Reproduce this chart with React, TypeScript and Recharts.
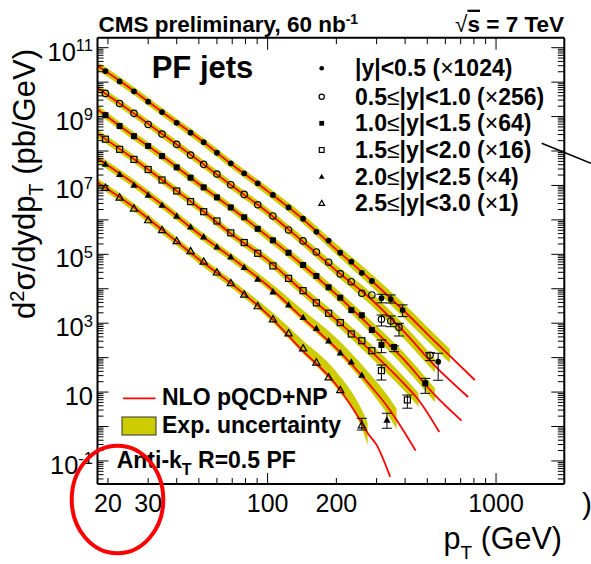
import React from 'react';
import { ComposedChart, XAxis, YAxis, Line, Area, Scatter, ErrorBar } from 'recharts';

const FONT = '"Liberation Sans", Arial, Helvetica, sans-serif';
const RED = '#ff0000';
const YELLOW = '#cccc00';

const W = 591;
const H = 564;
// axes are 1px thick, so the plot area spans x 97.5..564.3, y 37.7..484
const MARGIN = { top: 36.7, right: 25.7, bottom: 79, left: 96.5 };
const X_DOMAIN = [18, 1990];
const Y_DOMAIN = [0.0214, 1.95e11];

// ---- tick labels ----
const X_TICKS = [20, 30, 40, 50, 60, 70, 80, 90, 100, 200, 300, 400, 500, 600, 700, 800, 900, 1000];
const X_MAJOR = [100, 1000];
const X_LABELS = [20, 30, 100, 200, 1000];
const Y_EXPS = [-2, -1, 0, 1, 2, 3, 4, 5, 6, 7, 8, 9, 10, 11];
const Y_LABEL_EXPS = [11, 9, 7, 5, 3, 1, -1];

// ---- legend text ----
const RAP_LOW = ['', '0.5', '1.0', '1.5', '2.0', '2.5'];
const RAP_HIGH = ['0.5', '1.0', '1.5', '2.0', '2.5', '3.0'];
const FACTORS = ['1024', '256', '64', '16', '4', '1'];

// ---- measured points (pb/GeV, scaled) ----
const PT = [19.5, 22.5, 26, 30, 34.5, 40, 46, 52.5, 60, 69, 79, 90.5, 105.5, 123.5, 143, 163.5, 185, 208, 232.5, 258.5, 286, 315, 346];

const s1Pt = [...PT, 390, 558];
const s1Val = [2.1e10, 1.05e10, 5.4e9, 2.7e9, 1.35e9, 6.6e8, 3.4e8, 1.8e8, 8.9e7, 4.4e7, 2.25e7, 1.15e7, 5.3e6, 2.3e6, 1.08e6, 4.5e5, 2.5e5, 1.11e5, 6.1e4, 2.9e4, 1.68e4, 5.3e3, 5.0e3, 2.4e3, 76];
const s1ErrPt = [315, 346, 390, 558];
const s1ErrLo = [3.9e3, 3.85e3, 1.55e3, 22];
const s1ErrHi = [6.9e3, 6.6e3, 3.4e3, 134];

const s2Pt = [...PT, 376, 514];
const s2Val = [4.7e9, 2.4e9, 1.24e9, 5.9e8, 3.1e8, 1.56e8, 7.6e7, 4.1e7, 2.15e7, 1.05e7, 5.5e6, 2.75e6, 1.3e6, 5.1e5, 2.45e5, 1.17e5, 5.9e4, 2.7e4, 1.6e4, 7.4e3, 6.6e3, 1.3e3, 1.16e3, 760, 117];
const s2ErrPt = [315, 346, 376, 514];
const s2ErrLo = [830, 790, 425, 82];
const s2ErrHi = [1.73e3, 1.62e3, 990, 139];

const s3Pt = [...PT.slice(0, 22), 358, 490];
const s3Val = [1.1e9, 5.3e8, 2.7e8, 1.4e8, 7.1e7, 3.35e7, 1.68e7, 8.8e6, 4.5e6, 2.3e6, 1.19e6, 5.5e5, 2.55e5, 1.11e5, 4.9e4, 2.35e4, 1.1e4, 5.5e3, 2.4e3, 1.7e3, 635, 233, 204, 18];
const s3ErrPt = [315, 358, 490];
const s3ErrLo = [139, 149, 9.2];
const s3ErrHi = [325, 218, 25];

const s4Pt = [...PT.slice(0, 22), 409];
const s4Val = [2.2e8, 1.12e8, 5.7e7, 2.9e7, 1.44e7, 6.9e6, 3.4e6, 1.73e6, 9.3e5, 4.2e5, 2.2e5, 1.07e5, 4.6e4, 2.0e4, 8.8e3, 3.9e3, 1.94e3, 1.04e3, 485, 310, 159, 42, 5.9];
const s4ErrPt = [315, 409];
const s4ErrLo = [22.4, 3.4];
const s4ErrHi = [61, 8.2];

const s5Pt = [...PT.slice(0, 20), 333];
const s5Val = [4.2e7, 2.1e7, 1.03e7, 5.3e6, 2.7e6, 1.3e6, 6.3e5, 3.25e5, 1.66e5, 8.5e4, 4.2e4, 1.92e4, 8.2e3, 3.4e3, 1.48e3, 710, 310, 139, 76, 31, 1.55];
const s5ErrPt = [333];
const s5ErrLo = [0.89];
const s5ErrHi = [2.43];

const s6Pt = [...PT.slice(0, 18), 258.5];
const s6Val = [8.6e6, 4.5e6, 2.16e6, 9.9e5, 5.1e5, 2.45e5, 1.25e5, 6.2e4, 3.0e4, 1.47e4, 6.8e3, 3.15e3, 1.3e3, 510, 187, 73, 27, 11.5, 1.1];
const s6ErrPt = [258.5];
const s6ErrLo = [0.79];
const s6ErrHi = [1.73];

// ---- NLO pQCD+NP curves and experimental uncertainty band (relative up / down) ----
const s1ThPt = [18, 25, 35, 50, 70, 100, 140, 200, 280, 400, 560, 628, 807];
const s1ThVal = [2.97e10, 6.67e9, 1.27e9, 2.3e8, 3.99e7, 6.84e6, 1.17e6, 1.37e5, 1.92e4, 2.11e3, 233, 112, 22.4];
const s1BandUp = [0.31, 0.31, 0.31, 0.31, 0.31, 0.33, 0.38, 0.45, 0.55, 0.6, 0.6, 0.6];
const s1BandDn = [0.24, 0.24, 0.24, 0.24, 0.24, 0.25, 0.26, 0.28, 0.33, 0.37, 0.37, 0.37];

const s2ThPt = [18, 25, 35, 50, 70, 100, 140, 200, 280, 400, 540, 755];
const s2ThVal = [6.67e9, 1.48e9, 2.94e8, 5.18e7, 9.61e6, 1.67e6, 2.6e5, 3.34e4, 5.39e3, 520, 57.4, 7.2];
const s2BandUp = [0.31, 0.31, 0.31, 0.31, 0.31, 0.33, 0.38, 0.45, 0.55, 0.6, 0.6];
const s2BandDn = [0.24, 0.24, 0.24, 0.24, 0.24, 0.25, 0.26, 0.28, 0.33, 0.37, 0.37];

const s3ThPt = [18, 25, 35, 50, 70, 100, 140, 200, 280, 400, 540, 706];
const s3ThVal = [1.61e9, 3.25e8, 6.67e7, 1.1e7, 2.11e6, 3.31e5, 5.34e4, 6.81e3, 830, 80, 8.1, 1.48];
const s3BandUp = [0.31, 0.31, 0.31, 0.31, 0.31, 0.33, 0.38, 0.45, 0.55, 0.6, 0.6];
const s3BandDn = [0.24, 0.24, 0.24, 0.24, 0.24, 0.25, 0.26, 0.28, 0.33, 0.37, 0.37];

const s4ThPt = [18, 25, 35, 50, 70, 100, 140, 200, 280, 400, 458, 564];
const s4ThVal = [3.21e8, 7.05e7, 1.35e7, 2.25e6, 3.71e5, 6.79e4, 9.44e3, 1.24e3, 167, 16.1, 5.9, 0.695];
const s4BandUp = [0.31, 0.31, 0.31, 0.31, 0.31, 0.33, 0.4, 0.5, 0.6, 0.6, 0.6];
const s4BandDn = [0.24, 0.24, 0.24, 0.24, 0.24, 0.25, 0.27, 0.3, 0.35, 0.37, 0.37];

const s5ThPt = [18, 25, 35, 50, 70, 100, 140, 200, 280, 333, 367, 445];
const s5ThVal = [6.04e7, 1.36e7, 2.56e6, 3.94e5, 7.76e4, 1.24e4, 1.57e3, 185, 16.1, 3.96, 1.55, 0.199];
const s5BandUp = [0.31, 0.31, 0.31, 0.31, 0.31, 0.4, 0.7, 1.0, 1.1, 1.1, 1.1];
const s5BandDn = [0.24, 0.24, 0.24, 0.24, 0.24, 0.22, 0.2, 0.2, 0.3, 0.4, 0.45];

const s6ThPt = [18, 25, 35, 50, 70, 100, 140, 200, 258.5, 274, 300, 344];
const s6ThVal = [1.22e7, 2.79e6, 4.78e5, 7.16e4, 1.34e4, 1.8e3, 178, 16.1, 1.27, 0.65, 0.292, 0.0344];
const s6BandUp = [0.31, 0.31, 0.31, 0.31, 0.31, 0.5, 1.0, 1.4, 1.4, 1.0];
const s6BandDn = [0.24, 0.24, 0.24, 0.24, 0.24, 0.2, 0.15, 0.2, 0.3, 0.55];

// ---- build tables ----
function makePoints(pt: number[], val: number[], ePt: number[], eLo: number[], eHi: number[]) {
  return pt.map((p, i) => {
    const k = ePt.indexOf(p);
    const v = val[i];
    return k >= 0 ? { pt: p, v, err: [v - eLo[k], eHi[k] - v] } : { pt: p, v };
  });
}
function makeTheory(pt: number[], val: number[]) {
  return pt.map((p, i) => ({ pt: p, v: val[i] }));
}
function makeBand(pt: number[], val: number[], up: number[], dn: number[]) {
  return up.map((u, i) => ({ pt: pt[i], band: [val[i] * (1 - dn[i]), val[i] * (1 + u)] }));
}

const POINTS = [
  makePoints(s1Pt, s1Val, s1ErrPt, s1ErrLo, s1ErrHi),
  makePoints(s2Pt, s2Val, s2ErrPt, s2ErrLo, s2ErrHi),
  makePoints(s3Pt, s3Val, s3ErrPt, s3ErrLo, s3ErrHi),
  makePoints(s4Pt, s4Val, s4ErrPt, s4ErrLo, s4ErrHi),
  makePoints(s5Pt, s5Val, s5ErrPt, s5ErrLo, s5ErrHi),
  makePoints(s6Pt, s6Val, s6ErrPt, s6ErrLo, s6ErrHi),
];
const THEORY = [
  makeTheory(s1ThPt, s1ThVal),
  makeTheory(s2ThPt, s2ThVal),
  makeTheory(s3ThPt, s3ThVal),
  makeTheory(s4ThPt, s4ThVal),
  makeTheory(s5ThPt, s5ThVal),
  makeTheory(s6ThPt, s6ThVal),
];
const BANDS = [
  makeBand(s1ThPt, s1ThVal, s1BandUp, s1BandDn),
  makeBand(s2ThPt, s2ThVal, s2BandUp, s2BandDn),
  makeBand(s3ThPt, s3ThVal, s3BandUp, s3BandDn),
  makeBand(s4ThPt, s4ThVal, s4BandUp, s4BandDn),
  makeBand(s5ThPt, s5ThVal, s5BandUp, s5BandDn),
  makeBand(s6ThPt, s6ThVal, s6BandUp, s6BandDn),
];

const Y_TICKS: number[] = [];
Y_EXPS.forEach((e) => {
  for (let m = 1; m <= 9; m++) {
    const v = m * Math.pow(10, e);
    if (v >= Y_DOMAIN[0] && v <= Y_DOMAIN[1]) Y_TICKS.push(v);
  }
});

// ---- markers ----
function Marker({ kind, cx, cy, s = 1 }: { kind: number; cx: number; cy: number; s?: number }) {
  const r = 2.9 * s;
  const h = 3 * s;
  const t = 3.6 * s;
  switch (kind) {
    case 0:
      return <circle cx={cx} cy={cy} r={r} fill="#000" />;
    case 1:
      return <circle cx={cx} cy={cy} r={r + 0.3} fill="none" stroke="#000" strokeWidth={1.2} />;
    case 2:
      return <rect x={cx - h} y={cy - h} width={2 * h} height={2 * h} fill="#000" />;
    case 3:
      return <rect x={cx - h} y={cy - h} width={2 * h} height={2 * h} fill="none" stroke="#000" strokeWidth={1.2} />;
    case 4:
      return <polygon points={`${cx},${cy - t} ${cx + t},${cy + t * 0.75} ${cx - t},${cy + t * 0.75}`} fill="#000" />;
    default:
      return (
        <polygon
          points={`${cx},${cy - t} ${cx + t},${cy + t * 0.75} ${cx - t},${cy + t * 0.75}`}
          fill="none"
          stroke="#000"
          strokeWidth={1.2}
        />
      );
  }
}

// ---- ticks ----
function isMajor(v: number) {
  const lg = Math.log10(v);
  return Math.abs(lg - Math.round(lg)) < 1e-6;
}
const LeftTick = (p: any) => {
  const { x, y, payload } = p;
  const v = payload.value;
  const e = Math.round(Math.log10(v));
  const major = isMajor(v);
  return (
    <g>
      <line x1={x} y1={y} x2={x + (major ? 11 : 6)} y2={y} stroke="#000" strokeWidth={1} />
      {major && Y_LABEL_EXPS.includes(e) && (
        <text x={x - 4.5} y={y + 13} textAnchor="end" fontFamily={FONT} fontSize={25.5} fill="#000">
          10
          {e !== 1 && (
            <tspan dy={-9.5} fontSize={16.5}>
              {String(e)}
            </tspan>
          )}
        </text>
      )}
    </g>
  );
};
const RightTick = (p: any) => {
  const { x, y, payload } = p;
  const major = isMajor(payload.value);
  return <line x1={x} y1={y} x2={x - (major ? 13 : 6.5)} y2={y} stroke="#000" strokeWidth={1} />;
};
const BottomTick = (p: any) => {
  const { x, y, payload } = p;
  const v = payload.value;
  const major = X_MAJOR.includes(v);
  return (
    <g>
      <line x1={x} y1={y} x2={x} y2={y - (major ? 11 : 6)} stroke="#000" strokeWidth={1} />
      {X_LABELS.includes(v) && (
        <text x={x} y={y + 28} textAnchor="middle" fontFamily={FONT} fontSize={25} fill="#000">
          {String(v)}
        </text>
      )}
    </g>
  );
};
const TopTick = (p: any) => {
  const { x, y, payload } = p;
  const major = X_MAJOR.includes(payload.value);
  return <line x1={x} y1={y} x2={x} y2={y + (major ? 12 : 6.5)} stroke="#000" strokeWidth={1} />;
};

const AXIS_LINE = { stroke: '#000', strokeWidth: 2 };
const LEG_ROWS = [68.3, 96.7, 123.3, 150, 176.7, 203.3];

export default function App() {
  return (
    <div style={{ position: 'absolute', left: 0, top: 0, width: W, height: H, background: '#fff' }}>
      <ComposedChart width={W} height={H} margin={MARGIN}>
        <XAxis
          xAxisId="b"
          dataKey="pt"
          type="number"
          scale="log"
          domain={X_DOMAIN}
          allowDataOverflow
          ticks={X_TICKS}
          interval={0}
          tick={BottomTick}
          tickLine={false}
          tickSize={0}
          tickMargin={0}
          height={1}
          axisLine={AXIS_LINE}
          orientation="bottom"
        />
        <XAxis
          xAxisId="t"
          dataKey="pt"
          type="number"
          scale="log"
          domain={X_DOMAIN}
          allowDataOverflow
          ticks={X_TICKS}
          interval={0}
          tick={TopTick}
          tickLine={false}
          tickSize={0}
          tickMargin={0}
          height={1}
          axisLine={AXIS_LINE}
          orientation="top"
        />
        <YAxis
          yAxisId="l"
          type="number"
          scale="log"
          domain={Y_DOMAIN}
          allowDataOverflow
          ticks={Y_TICKS}
          interval={0}
          tick={LeftTick}
          tickLine={false}
          tickSize={0}
          tickMargin={0}
          width={1}
          axisLine={AXIS_LINE}
          orientation="left"
        />
        <YAxis
          yAxisId="r"
          type="number"
          scale="log"
          domain={Y_DOMAIN}
          allowDataOverflow
          ticks={Y_TICKS}
          interval={0}
          tick={RightTick}
          tickLine={false}
          tickSize={0}
          tickMargin={0}
          width={1}
          axisLine={AXIS_LINE}
          orientation="right"
        />
        {BANDS.map((d, i) => (
          <Area
            key={'band' + i}
            data={d}
            dataKey="band"
            xAxisId="b"
            yAxisId="l"
            type="monotone"
            stroke="none"
            fill={YELLOW}
            fillOpacity={1}
            dot={false}
            activeDot={false}
            isAnimationActive={false}
          />
        ))}
        {THEORY.map((d, i) => (
          <Line
            key={'th' + i}
            data={d}
            dataKey="v"
            xAxisId="b"
            yAxisId="l"
            type="monotone"
            stroke={RED}
            strokeWidth={1.8}
            dot={false}
            activeDot={false}
            isAnimationActive={false}
          />
        ))}
        {POINTS.map((d, i) => (
          <Scatter
            key={'pts' + i}
            data={d.filter((q: any) => !q.err)}
            dataKey="v"
            xAxisId="b"
            yAxisId="l"
            isAnimationActive={false}
            shape={(p: any) => <Marker kind={i} cx={p.cx} cy={p.cy} />}
          />
        ))}
        {POINTS.map((d, i) => (
          <Scatter
            key={'ptsErr' + i}
            data={d.filter((q: any) => q.err)}
            dataKey="v"
            xAxisId="b"
            yAxisId="l"
            isAnimationActive={false}
            shape={(p: any) => <Marker kind={i} cx={p.cx} cy={p.cy} />}
          >
            <ErrorBar dataKey="err" direction="y" width={5} stroke="#000" strokeWidth={1} />
          </Scatter>
        ))}
      </ComposedChart>
      <svg
        width={W}
        height={H}
        style={{ position: 'absolute', left: 0, top: 0, pointerEvents: 'none' }}
        fontFamily={FONT}
      >
        {/* header */}
        <text x={98.5} y={31.7} fontSize={22.5} fontWeight="bold" fill="#000">
          CMS preliminary, 60 nb
          <tspan dy={-8} fontSize={14}>
            -1
          </tspan>
        </text>
        <text x={564} y={31.7} fontSize={22.5} fontWeight="bold" fill="#000" textAnchor="end">
          <tspan fontWeight="normal">√</tspan>
          <tspan textDecoration="overline">s</tspan> = 7 TeV
        </text>
        <text x={151.7} y={78.3} fontSize={31} fontWeight="bold" fill="#000">
          PF jets
        </text>
        {/* series legend */}
        {LEG_ROWS.map((ry, i) => (
          <g key={'leg' + i}>
            <Marker kind={i} cx={321.7} cy={ry} s={0.8} />
            <text x={355} y={ry + 8} fontSize={23} fontWeight="bold" fill="#000">
              {RAP_LOW[i]}
              {RAP_LOW[i] && <tspan fontWeight="normal">≤</tspan>}
              {'|y|<' + RAP_HIGH[i] + ' ('}
              <tspan fontWeight="normal">×</tspan>
              {FACTORS[i] + ')'}
            </text>
          </g>
        ))}
        {/* NLO / band legend */}
        <line x1={123} y1={398.3} x2={155.5} y2={398.3} stroke={RED} strokeWidth={1.8} />
        <text x={162} y={405} fontSize={23} fontWeight="bold" fill="#000">
          NLO pQCD+NP
        </text>
        <rect x={122} y={417} width={34} height={18} fill={YELLOW} stroke="#333" strokeWidth={1} />
        <text x={162} y={433.3} fontSize={23} fontWeight="bold" fill="#000">
          Exp. uncertainty
        </text>
        <text x={116.7} y={468.3} fontSize={23} fontWeight="bold" fill="#000">
          Anti-k
          <tspan dy={7} fontSize={16}>
            T
          </tspan>
          <tspan dy={-7}> R=0.5 PF</tspan>
        </text>
        {/* axis titles */}
        <text x={35} y={184} fontSize={31} fill="#000" textAnchor="middle" transform="rotate(-90 35 184)">
          d<tspan dy={-11} fontSize={20}>2</tspan>
          <tspan dy={11}>σ/dydp</tspan>
          <tspan dy={8} fontSize={20}>T</tspan>
          <tspan dy={-8}> (pb/GeV)</tspan>
        </text>
        <text x={562} y={549} fontSize={30.5} fill="#000" textAnchor="end">
          p<tspan dy={10} fontSize={19}>T</tspan>
          <tspan dy={-10}> (GeV)</tspan>
        </text>
        <text x={582} y={514} fontSize={30} fill="#000">
          )
        </text>
        {/* annotations */}
        <line x1={541.7} y1={143.3} x2={591} y2={163.3} stroke="#000" strokeWidth={1.5} />
        <ellipse cx={117.5} cy={499.5} rx={45.8} ry={53.8} fill="none" stroke={RED} strokeWidth={4} />
      </svg>
    </div>
  );
}
